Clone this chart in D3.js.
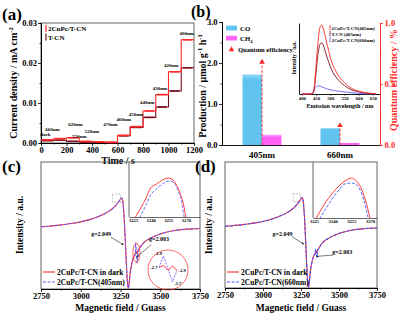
<!DOCTYPE html>
<html>
<head>
<meta charset="utf-8">
<script src="https://cdn.jsdelivr.net/npm/d3@7/dist/d3.min.js"></script>
<style>
  body { margin: 0; background: #fff; }
  text { font-family: "Liberation Serif", "Times New Roman", serif; font-weight: bold; }
</style>
</head>
<body>
<svg id="fig" width="407" height="322"></svg>
<script>
// ---- (a) photocurrent under monochromatic light ----
const stepStart = [0, 100, 200, 300, 400, 500, 600, 700, 800, 900, 1000, 1100];
const stepLabels = ["dark", "660nm", "620nm", "550nm", "520nm", "470nm", "460nm", "450nm", "440nm", "430nm", "420nm", "400nm"];
const jCuPc = [0.0008, 0.0011, 0.0013, 0.0004, 0.0003, 0.0002, 0.0019, 0.0041, 0.0080, 0.0121, 0.0178, 0.0258];
const jTCN = [0.0006, 0.0007, 0.0004, 0.0002, 0.0002, 0.0001, 0.0018, 0.0039, 0.0064, 0.0090, 0.0130, 0.0188];
const stepLabelT = [35, 90, 270, 300, 400, 545, 648, 745, 833, 933, 1022, 1143];
const stepLabelJ = [0.0017, 0.0031, 0.0042, 0.0013, 0.0026, 0.0042, 0.0054, 0.0068, 0.0098, 0.0133, 0.0191, 0.0271];
const timeTicks = [0, 200, 400, 600, 800, 1000, 1200];
const jTicks = [0, 0.01, 0.02, 0.03];

// ---- (b) production and quantum efficiency ----
const wavelengths = ["405nm", "660nm"];
const coRate = [1.72, 0.41];
const ch4Rate = [0.25, 0.05];
const qe = [0.68, 0.16];
const prodTicks = [0, 1, 2, 3];
const qeTicks = [0, 0.5, 1.0];

// (b) inset: PL spectra
const plWave = [400, 430, 440, 445, 450, 455, 460, 465, 470, 475, 480, 490, 500, 510, 520, 530, 540, 550, 560, 580, 600, 620, 640, 660];
const plCuPc405 = [0, 0, 0.02, 0.15, 0.40, 0.65, 0.85, 0.95, 0.97, 0.93, 0.85, 0.68, 0.52, 0.40, 0.32, 0.25, 0.20, 0.16, 0.12, 0.07, 0.04, 0.02, 0.01, 0.005];
const plTCN405 = [0, 0, 0.01, 0.10, 0.30, 0.50, 0.64, 0.71, 0.72, 0.69, 0.63, 0.50, 0.39, 0.30, 0.24, 0.19, 0.15, 0.12, 0.09, 0.05, 0.03, 0.015, 0.008, 0.004];
const plCuPc660 = [0, 0, 0.03, 0.07, 0.10, 0.11, 0.115, 0.11, 0.10, 0.092, 0.085, 0.07, 0.06, 0.052, 0.045, 0.04, 0.035, 0.03, 0.025, 0.015, 0.01, 0.005, 0.002, 0];
const plTicks = [400, 450, 500, 550, 600, 650];
const plNames = ["2CuPc/T-CN(405nm)", "T-CN (405nm)", "2CuPc/T-CN(660nm)"];

// ---- (c)/(d) EPR ----
const eprField = [2750, 2800, 2850, 2900, 2950, 3000, 3050, 3100, 3150, 3180, 3200, 3220, 3235, 3245, 3252, 3258, 3264, 3270, 3276, 3282, 3288, 3294, 3300, 3306, 3312, 3320, 3328, 3336, 3342, 3346, 3350, 3354, 3358, 3364, 3370, 3378, 3388, 3400, 3420, 3450, 3500, 3550, 3600, 3650, 3700, 3750];
const eprDark = [0.00, 0.02, 0.05, 0.08, 0.12, 0.17, 0.24, 0.33, 0.45, 0.55, 0.63, 0.74, 0.84, 0.92, 0.98, 1.00, 0.90, 0.55, 0.00, -0.70, -1.40, -1.95, -2.12, -1.85, -1.55, -1.30, -1.12, -1.00, -0.95, -0.90, -0.86, -0.93, -0.84, -0.79, -0.74, -0.67, -0.60, -0.53, -0.45, -0.36, -0.25, -0.17, -0.12, -0.09, -0.07, -0.06];
const epr405 = [0.00, 0.02, 0.05, 0.08, 0.12, 0.17, 0.24, 0.33, 0.45, 0.55, 0.63, 0.74, 0.84, 0.92, 0.97, 0.99, 0.89, 0.54, 0.00, -0.70, -1.40, -1.95, -2.12, -1.85, -1.55, -1.30, -1.12, -1.00, -0.98, -0.55, -0.90, -1.25, -1.10, -0.80, -0.74, -0.67, -0.60, -0.53, -0.45, -0.36, -0.25, -0.17, -0.12, -0.09, -0.07, -0.06];
const epr660 = [0.00, 0.02, 0.05, 0.08, 0.12, 0.17, 0.24, 0.33, 0.45, 0.55, 0.63, 0.74, 0.84, 0.92, 0.97, 0.99, 0.89, 0.54, 0.00, -0.70, -1.40, -1.95, -2.12, -1.85, -1.55, -1.30, -1.12, -1.00, -0.97, -0.78, -0.95, -1.08, -0.90, -0.79, -0.74, -0.67, -0.60, -0.53, -0.45, -0.36, -0.25, -0.17, -0.12, -0.09, -0.07, -0.06];
const fieldTicks = [2750, 3000, 3250, 3500, 3750];

// EPR insets (zoom on the peak)
const insetTicks = [3225, 3240, 3255, 3270];
const icFieldDark = [3225, 3227, 3232, 3236, 3240, 3245, 3250, 3255, 3258, 3262, 3265, 3268, 3270, 3272];
const icDark = [0.83, 0.85, 0.888, 0.923, 0.962, 0.977, 0.992, 1.0, 0.996, 0.973, 0.942, 0.896, 0.85, 0.82];
const icField405 = [3229, 3231, 3236, 3240, 3245, 3250, 3255, 3259, 3263, 3266, 3268.5, 3270];
const ic405 = [0.83, 0.85, 0.896, 0.935, 0.958, 0.977, 0.988, 0.985, 0.954, 0.915, 0.85, 0.82];
const idFieldDark = [3225, 3227, 3233, 3240, 3245, 3250, 3255, 3258, 3262, 3265, 3268, 3270, 3272];
const idDark = [0.83, 0.85, 0.899, 0.944, 0.97, 0.989, 1.0, 0.993, 0.97, 0.936, 0.888, 0.85, 0.82];
const idField660 = [3228, 3230, 3235, 3240, 3245, 3250, 3255, 3258, 3262, 3265, 3268.5, 3270];
const id660 = [0.83, 0.85, 0.888, 0.925, 0.955, 0.978, 0.981, 0.978, 0.955, 0.918, 0.85, 0.82];

// zoomed circle in (c)
const zoomStep = [0, 1, 2, 3, 4];
const zoomDark = [-2.7, -2.55, -2.9, -2.6, -2.9];
const zoom405 = [-2.7, -1.9, -2.8, -3.7, -2.9];

const RED = "#ff2a2a", MAROON = "#7a1020", FRAME = "#555";
const svg = d3.select("#fig");

function styleAxis(g, size, color) {
  color = color || "#000";
  g.attr("font-size", size).attr("font-family", null);
  g.select(".domain").attr("stroke", color).attr("stroke-width", 0.9);
  g.selectAll(".tick line").attr("stroke", color).attr("stroke-width", 0.8);
  g.selectAll(".tick text").attr("fill", color);
}

function label(g, x, y, str, size, opts) {
  opts = opts || {};
  const t = g.append("text").attr("x", x).attr("y", y).attr("font-size", size)
    .attr("text-anchor", opts.anchor || "start").attr("fill", opts.fill || "#000");
  if (opts.rotate) {
    t.attr("x", 0).attr("y", 0).attr("transform", `translate(${x},${y}) rotate(-90)`);
  }
  return t.text(str);
}

function box(g, xs, ys) {
  g.append("rect")
    .attr("x", xs.range()[0]).attr("y", ys.range()[1])
    .attr("width", xs.range()[1] - xs.range()[0])
    .attr("height", ys.range()[0] - ys.range()[1])
    .attr("fill", "none").attr("stroke", FRAME).attr("stroke-width", 0.9);
}

// ======================= (a) =======================
(function () {
  const g = svg.append("g");
  const x = d3.scaleLinear().domain([0, 1200]).range([41, 194]);
  const y = d3.scaleLinear().domain([0, 0.03]).range([143, 23]);

  box(g, x, y);
  g.append("g").attr("transform", "translate(0,143)")
    .call(d3.axisBottom(x).tickValues(timeTicks).tickFormat(d3.format("d")).tickSize(3).tickSizeOuter(0).tickPadding(1))
    .call(styleAxis, 8.5);
  g.append("g").attr("transform", "translate(0,143)")
    .call(d3.axisBottom(x).tickValues(d3.range(100, 1200, 200)).tickSize(1.5).tickFormat(""))
    .call(styleAxis, 8.5);
  g.append("g").attr("transform", "translate(41,0)")
    .call(d3.axisLeft(y).tickValues(jTicks).tickFormat(d3.format(".2f")).tickSize(3).tickSizeOuter(0).tickPadding(1))
    .call(styleAxis, 8.5);
  g.append("g").attr("transform", "translate(41,0)")
    .call(d3.axisLeft(y).tickValues([0.005, 0.015, 0.025]).tickSize(1.5).tickFormat(""))
    .call(styleAxis, 8.5);

  const line = d3.line().curve(d3.curveStepAfter).x(d => x(d[0])).y(d => y(d[1]));
  const series = [[jTCN, MAROON], [jCuPc, RED]];
  series.forEach(([vals, col]) => {
    const pts = stepStart.map((t, i) => [t, vals[i]]);
    pts.push([1200, vals[vals.length - 1]]);
    g.append("path").datum(pts).attr("d", line)
      .attr("fill", "none").attr("stroke", col).attr("stroke-width", 1.1);
    // thicker "data" runs along each step
    g.selectAll(null).data(pts.slice(0, -1)).enter().append("line")
      .attr("x1", d => x(d[0] + 12)).attr("x2", d => x(d[0] + 88))
      .attr("y1", d => y(d[1])).attr("y2", d => y(d[1]))
      .attr("stroke", col).attr("stroke-width", 1.6);
  });

  g.selectAll(".stepLab").data(stepLabels).enter().append("text")
    .attr("x", (d, i) => x(stepLabelT[i])).attr("y", (d, i) => y(stepLabelJ[i]))
    .attr("text-anchor", "middle").attr("font-size", 5).text(d => d);

  // legend
  [["2CuPc/T-CN", RED], ["T-CN", MAROON]].forEach(([name, col], i) => {
    g.append("line").attr("x1", 46).attr("x2", 46)
      .attr("y1", 25 + i * 8.5).attr("y2", 32 + i * 8.5)
      .attr("stroke", col).attr("stroke-width", 1.2);
    label(g, 48, 31 + i * 8.8, name, 7);
  });

  const yl = label(g, 17, 83, "", 10, { rotate: true, anchor: "middle" });
  yl.text("Current density / mA cm");
  yl.append("tspan").attr("dy", -4).attr("font-size", 6.5).text("-2");
  label(g, 118, 163.5, "Time / s", 10, { anchor: "middle" });
  label(g, 2, 20, "(a)", 17);
})();

// ======================= (b) =======================
(function () {
  const g = svg.append("g");
  const x = d3.scaleBand().domain(wavelengths).range([222, 380]).paddingInner(0.5).paddingOuter(0.263);
  const y = d3.scaleLinear().domain([0, 3]).range([145, 22]);
  const yq = d3.scaleLinear().domain([0, 1]).range([145, 23]);
  const bw = x.bandwidth() / 2;

  const defs = svg.append("defs");
  const gradCO = defs.append("linearGradient").attr("id", "gCO").attr("x1", 0).attr("x2", 0).attr("y1", 0).attr("y2", 1);
  gradCO.append("stop").attr("offset", 0).attr("stop-color", "#8fd8f6");
  gradCO.append("stop").attr("offset", 0.08).attr("stop-color", "#5ec3ee");
  gradCO.append("stop").attr("offset", 1).attr("stop-color", "#62c4ee");
  const gradCH = defs.append("linearGradient").attr("id", "gCH").attr("x1", 0).attr("x2", 0).attr("y1", 0).attr("y2", 1);
  gradCH.append("stop").attr("offset", 0).attr("stop-color", "#ff9cff");
  gradCH.append("stop").attr("offset", 0.3).attr("stop-color", "#ff5ef8");
  gradCH.append("stop").attr("offset", 1).attr("stop-color", "#ff66f6");

  g.selectAll(".co").data(wavelengths).enter().append("rect")
    .attr("x", d => x(d)).attr("width", bw)
    .attr("y", (d, i) => y(coRate[i])).attr("height", (d, i) => y(0) - y(coRate[i]))
    .attr("fill", "url(#gCO)");
  g.selectAll(".ch4").data(wavelengths).enter().append("rect")
    .attr("x", d => x(d) + bw).attr("width", bw)
    .attr("y", (d, i) => y(ch4Rate[i])).attr("height", (d, i) => y(0) - y(ch4Rate[i]))
    .attr("fill", "url(#gCH)");

  // quantum efficiency
  g.selectAll(".qeLine").data(wavelengths).enter().append("line")
    .attr("x1", d => x(d) + bw).attr("x2", d => x(d) + bw)
    .attr("y1", yq(0)).attr("y2", (d, i) => yq(qe[i]) + 2)
    .attr("stroke", RED).attr("stroke-width", 0.9).attr("stroke-dasharray", "3,1.5");
  g.selectAll(".qeMark").data(wavelengths).enter().append("path")
    .attr("d", d3.symbol(d3.symbolTriangle, 14))
    .attr("transform", (d, i) => `translate(${x(d) + bw},${yq(qe[i])})`)
    .attr("fill", RED);

  // axes
  g.append("g").attr("transform", "translate(0,145)")
    .call(d3.axisBottom(x).tickSize(0).tickPadding(7).tickSizeOuter(0))
    .call(styleAxis, 9);
  g.append("g").attr("transform", "translate(222,0)")
    .call(d3.axisLeft(y).tickValues(prodTicks).tickSize(3).tickSizeOuter(0).tickPadding(1.5))
    .call(styleAxis, 8.5);
  g.append("g").attr("transform", "translate(222,0)")
    .call(d3.axisLeft(y).tickValues([0.5, 1.5, 2.5]).tickSize(1.5).tickFormat(""))
    .call(styleAxis, 8.5);
  g.append("g").attr("transform", "translate(380,0)")
    .call(d3.axisRight(yq).tickValues(qeTicks).tickFormat(d3.format(".1f")).tickSize(3).tickSizeOuter(0).tickPadding(1.5))
    .call(styleAxis, 8.5, RED);
  g.append("g").attr("transform", "translate(380,0)")
    .call(d3.axisRight(yq).tickValues([0.25, 0.75]).tickSize(1.5).tickFormat(""))
    .call(styleAxis, 8.5, RED);

  // legend
  g.append("rect").attr("x", 226).attr("y", 25.5).attr("width", 11).attr("height", 5).attr("fill", "url(#gCO)");
  label(g, 240, 31, "CO", 6.8);
  g.append("rect").attr("x", 226).attr("y", 35.5).attr("width", 11).attr("height", 5).attr("fill", "url(#gCH)");
  const ch = label(g, 240, 41, "CH", 6.8);
  ch.append("tspan").attr("dy", 1.8).attr("font-size", 4.5).text("4");
  g.append("path").attr("d", d3.symbol(d3.symbolTriangle, 14)).attr("transform", "translate(231.5,49.5)").attr("fill", RED);
  label(g, 238, 52, "Quantum efficiency", 6.5);

  const yl = label(g, 206, 86, "", 10, { rotate: true, anchor: "middle" });
  yl.text("Production / μmol g");
  yl.append("tspan").attr("dy", -4).attr("font-size", 6.5).text("-1");
  yl.append("tspan").attr("dy", 4).text(" h");
  yl.append("tspan").attr("dy", -4).attr("font-size", 6.5).text("-1");
  label(g, 397, 80, "Quantum efficiency / %", 10, { rotate: true, anchor: "middle", fill: RED });
  label(g, 191, 17, "(b)", 16);

  // ---- inset: PL ----
  const px = d3.scaleLinear().domain([390, 675]).range([299, 380]);
  const py = d3.scaleLinear().domain([0, 1]).range([94, 23]);
  g.append("g").attr("transform", "translate(0,94)")
    .call(d3.axisBottom(px).tickValues(plTicks).tickSize(1.5).tickSizeOuter(0).tickPadding(1))
    .call(styleAxis, 4.8);
  g.append("g").attr("transform", "translate(299,0)")
    .call(d3.axisLeft(py).tickValues([]).tickSizeOuter(0))
    .call(styleAxis, 4.8);
  const pl = d3.line().curve(d3.curveMonotoneX).x((d, i) => px(plWave[i])).y(d => py(d));
  [[plCuPc660, "#6a5cff"], [plTCN405, MAROON], [plCuPc405, RED]].forEach(([vals, col]) => {
    g.append("path").datum(vals).attr("d", pl)
      .attr("fill", "none").attr("stroke", col).attr("stroke-width", 0.9);
  });
  [RED, MAROON, "#6a5cff"].forEach((col, i) => {
    g.append("line").attr("x1", 330).attr("x2", 330)
      .attr("y1", 25 + i * 6).attr("y2", 30.5 + i * 6).attr("stroke", col).attr("stroke-width", 0.8);
    label(g, 331.5, 29.5 + i * 6, plNames[i], 4.8);
  });
  label(g, 340, 108, "Emission wavelength / nm", 6, { anchor: "middle" });
  label(g, 295.5, 58, "Intensity / a.u.", 5.5, { rotate: true, anchor: "middle" });
})();

// ======================= (c) & (d) =======================
function eprPanel(o) {
  const g = svg.append("g");
  const x = d3.scaleLinear().domain([2750, 3750]).range(o.xr);
  const y = d3.scaleLinear().domain([-2.15, 2.24]).range([o.yb, 162]);
  box(g, x, y);
  g.append("g").attr("transform", `translate(0,${o.yb})`)
    .call(d3.axisBottom(x).tickValues(fieldTicks).tickFormat(d3.format("d")).tickSize(3).tickSizeOuter(0).tickPadding(1))
    .call(styleAxis, 8.5);
  g.append("g").attr("transform", `translate(0,${o.yb})`)
    .call(d3.axisBottom(x).tickValues([2875, 3125, 3375, 3625]).tickSize(1.5).tickFormat(""))
    .call(styleAxis, 8.5);

  const ln = d3.line().curve(d3.curveMonotoneX).x((d, i) => x(eprField[i])).y(d => y(d));
  g.append("path").datum(eprDark).attr("d", ln)
    .attr("fill", "none").attr("stroke", RED).attr("stroke-width", 1.1);
  g.append("path").datum(o.light).attr("d", ln)
    .attr("fill", "none").attr("stroke", o.blue).attr("stroke-width", 1.1).attr("stroke-dasharray", "3,1.6");

  // dashed marker box at the peak
  g.append("rect")
    .attr("x", x(3225) - 4).attr("y", y(1.13))
    .attr("width", x(3275) - x(3225)).attr("height", y(0.85) - y(1.13))
    .attr("fill", "none").attr("stroke", "#888").attr("stroke-width", 0.6).attr("stroke-dasharray", "1.5,1.5");

  // inset
  const ix = d3.scaleLinear().domain(o.ixd).range([o.ix0, o.xr[1]]);
  const iy = d3.scaleLinear().domain(o.iyd).range([o.iyb, 162]);
  const clipId = "clip" + o.id;
  svg.append("clipPath").attr("id", clipId).append("rect")
    .attr("x", o.ix0).attr("y", 162).attr("width", o.xr[1] - o.ix0).attr("height", o.iyb - 162);
  g.append("g").attr("transform", `translate(0,${o.iyb})`)
    .call(d3.axisBottom(ix).tickValues(insetTicks).tickFormat(d3.format("d")).tickSize(0).tickSizeOuter(0).tickPadding(2))
    .call(styleAxis, 4.6, FRAME)
    .call(a => a.selectAll(".tick text").attr("fill", "#000"));
  g.append("line").attr("x1", o.ix0).attr("x2", o.ix0).attr("y1", 162).attr("y2", o.iyb)
    .attr("stroke", FRAME).attr("stroke-width", 0.9);
  const il = (fs) => d3.line().curve(d3.curveMonotoneX).x((d, i) => ix(fs[i])).y(d => iy(d));
  const ig = g.append("g").attr("clip-path", `url(#${clipId})`);
  ig.append("path").datum(o.inDark).attr("d", il(o.inDarkF))
    .attr("fill", "none").attr("stroke", RED).attr("stroke-width", 0.9);
  ig.append("path").datum(o.inLight).attr("d", il(o.inLightF))
    .attr("fill", "none").attr("stroke", o.blue).attr("stroke-width", 0.9).attr("stroke-dasharray", "3,1.6");

  // g-value annotations
  const arrow = (x1, y1, x2, y2) => {
    g.append("line").attr("x1", x1).attr("y1", y1).attr("x2", x2).attr("y2", y2)
      .attr("stroke", "#222").attr("stroke-width", 0.6).attr("marker-end", "url(#arr)");
  };
  label(g, x(3128), y(-0.33), "g=2.049", 6, { anchor: "middle" });
  arrow(x(3190), y(-0.36), x(3268), y(-0.62));
  label(g, x(3430) + (o.id === "c" ? 0 : 4), y(o.id === "c" ? -0.5 : -0.95), "g=2.003", 6);
  arrow(x(3430) + (o.id === "c" ? 2 : 5), y(o.id === "c" ? -0.62 : -1.0), x(3352), y(-1.05));

  // legend
  const lx = o.xr[0] + 2;
  g.append("line").attr("x1", lx).attr("x2", lx + 12).attr("y1", 272).attr("y2", 272)
    .attr("stroke", RED).attr("stroke-width", 1.1);
  label(g, lx + 14, 274.5, "2CuPc/T-CN in dark", 7.5);
  g.append("line").attr("x1", lx).attr("x2", lx + 12).attr("y1", 282).attr("y2", 282)
    .attr("stroke", o.blue).attr("stroke-width", 1.1).attr("stroke-dasharray", "3,1.6");
  label(g, lx + 14, 284.5, o.lightName, 7.5);

  label(g, o.ylx, 225, "Intensity / a.u.", 9.5, { rotate: true, anchor: "middle" });
  label(g, (o.xr[0] + o.xr[1]) / 2, 311, "Magnetic field / Guass", 9.5, { anchor: "middle" });
  label(g, o.plx, 172, o.tag, 17);
  return { g, x, y };
}

svg.append("defs").append("marker").attr("id", "arr").attr("viewBox", "0 0 6 6")
  .attr("refX", 5).attr("refY", 3).attr("markerWidth", 4).attr("markerHeight", 4).attr("orient", "auto")
  .append("path").attr("d", "M0,0L6,3L0,6Z").attr("fill", "#222");

const pc = eprPanel({
  id: "c", tag: "(c)", xr: [41, 200], yb: 289, light: epr405, blue: "#6e5cf5",
  lightName: "2CuPc/T-CN(405nm)", ylx: 23, plx: 2,
  ix0: 129, ixd: [3221.5, 3282], iyd: [0.85, 1.0615], iyb: 217,
  inDarkF: icFieldDark, inDark: icDark, inLightF: icField405, inLight: ic405
});
const pd = eprPanel({
  id: "d", tag: "(d)", xr: [225, 377], yb: 288, light: epr660, blue: "#4055ff",
  lightName: "2CuPc/T-CN(660nm)", ylx: 212, plx: 195,
  ix0: 313, ixd: [3224.2, 3275.6], iyd: [0.85, 1.06], iyb: 218,
  inDarkF: idFieldDark, inDark: idDark, inLightF: idField660, inLight: id660
});

// highlight of the g=2.003 feature in (c) and its magnified view
(function () {
  const { g, x, y } = pc;
  g.append("ellipse").attr("cx", x(3350)).attr("cy", y(-0.9)).attr("rx", 3.6).attr("ry", 9.5)
    .attr("fill", "none").attr("stroke", RED).attr("stroke-width", 0.7);
  const cx0 = 168, cy0 = 270;
  g.append("circle").attr("cx", cx0).attr("cy", cy0).attr("r", 20)
    .attr("fill", "none").attr("stroke", RED).attr("stroke-width", 0.7);
  const zx = d3.scaleLinear().domain([0, 4]).range([cx0 - 9, cx0 + 9]);
  const zy = d3.scaleLinear().domain([-1.9, -3.7]).range([cy0 - 14, cy0 + 12]);
  const zl = d3.line().x((d, i) => zx(zoomStep[i])).y(d => zy(d));
  g.append("path").datum(zoom405).attr("d", zl).attr("fill", "none")
    .attr("stroke", "#6e5cf5").attr("stroke-width", 0.9).attr("stroke-dasharray", "2,1.2");
  g.append("path").datum(zoomDark).attr("d", zl).attr("fill", "none")
    .attr("stroke", RED).attr("stroke-width", 0.9);
  label(g, zx(1) - 1.5, zy(-1.9) - 1, "-1.9", 4.6, { anchor: "end" });
  label(g, zx(0) - 1.5, zy(-2.7) + 1.5, "-2.7", 4.6, { anchor: "end" });
  label(g, zx(4) + 1.5, zy(-2.9) + 1.5, "-2.9", 4.6);
  label(g, zx(3) + 1.5, zy(-3.7) + 2.5, "-3.7", 4.6);
})();
</script>
</body>
</html>
